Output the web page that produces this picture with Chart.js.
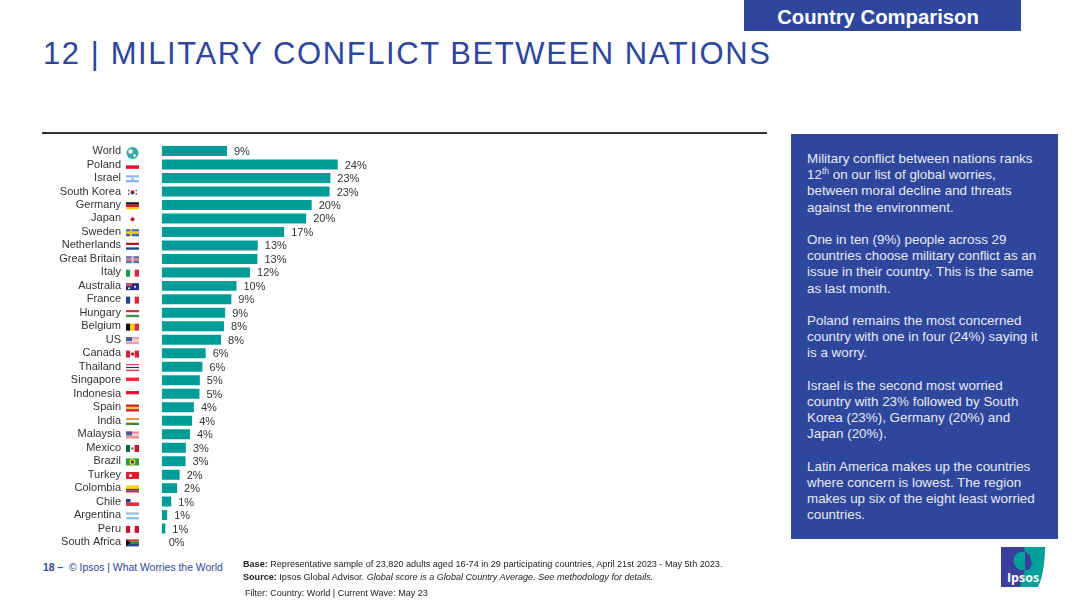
<!DOCTYPE html>
<html>
<head>
<meta charset="utf-8">
<title>Military conflict between nations</title>
<script src="https://cdn.jsdelivr.net/npm/chart.js@4/dist/chart.umd.min.js"></script>
<style>
  html, body { margin: 0; padding: 0; background: #fff; }
  body { width: 1080px; height: 607px; position: relative; overflow: hidden; font-family: "Liberation Sans", Arial, sans-serif; }
  .abs { position: absolute; white-space: nowrap; }
  #tab { left: 744px; top: 0; width: 268px; padding-right: 9px; height: 31px; line-height: 34px; background: #2e469c; color: #fff; font-weight: bold; font-size: 20.3px; text-align: center; }
  #title { left: 43px; top: 36px; font-size: 31px; line-height: 36px; color: #2e469c; letter-spacing: 1.58px; }
  #rule { left: 42px; top: 132px; width: 725px; height: 2px; background: #333; }
  #panel { left: 791px; top: 134px; width: 267px; height: 405px; background: #2e469c; }
  #panelText { left: 807px; top: 151px; color: #e8ebf5; font-size: 13.4px; line-height: 16.2px; }
  #panelText sup { font-size: 8.5px; line-height: 0; }
  #chartBox { position: absolute; left: 0; top: 130px; width: 400px; height: 430px; }
  #chart { display: block; }
  #page { left: 43px; top: 561px; font-size: 10.4px; line-height: 13px; color: #2e469c; }
  #notes { left: 243px; top: 558px; font-size: 9.08px; line-height: 13.4px; color: #222; }
  #filter { left: 245px; top: 587px; font-size: 9.05px; line-height: 13px; color: #222; }
  #logo { left: 1001px; top: 547px; }
</style>
</head>
<body>
<div class="abs" id="tab">Country Comparison</div>
<div class="abs" id="title">12 | MILITARY CONFLICT BETWEEN NATIONS</div>
<div class="abs" id="rule"></div>
<div class="abs" id="panel"></div>
<div class="abs" id="panelText">
Military conflict between nations ranks<br>
12<sup>th</sup> on our list of global worries,<br>
between moral decline and threats<br>
against the environment.<br>
<br>
One in ten (9%) people across 29<br>
countries choose military conflict as an<br>
issue in their country. This is the same<br>
as last month.<br>
<br>
Poland remains the most concerned<br>
country with one in four (24%) saying it<br>
is a worry.<br>
<br>
Israel is the second most worried<br>
country with 23% followed by South<br>
Korea (23%), Germany (20%) and<br>
Japan (20%).<br>
<br>
Latin America makes up the countries<br>
where concern is lowest. The region<br>
makes up six of the eight least worried<br>
countries.
</div>
<div id="chartBox"><canvas id="chart" width="400" height="430"></canvas></div>
<div class="abs" id="page"><b>18 –</b>&nbsp; © Ipsos | What Worries the World</div>
<div class="abs" id="notes"><b>Base:</b> Representative sample of 23,820 adults aged 16-74 in 29 participating countries, April 21st 2023 - May 5th 2023.<br>
<b>Source:</b> Ipsos Global Advisor. <i>Global score is a Global Country Average. See methodology for details.</i></div>
<div class="abs" id="filter">Filter: Country: World | Current Wave: May 23</div>
<svg class="abs" id="logo" width="45" height="41" viewBox="0 0 45 41">
  <rect x="0" y="0" width="24" height="40" fill="#3a3f9e"/>
  <path d="M23 0 H44 C44 14 42 30 37 40 H19 C24 28 26 12 23 0 Z" fill="#00a19a"/>
  <path d="M21 5 C14 5 12 11 13 16 C14 20 17 22 19 23 L24 23 L24 5 Z" fill="#00a19a"/>
  <path d="M24 5 C29 6 30 11 30 14 L32 17 L30 18 C30 22 28 23 24 23 Z" fill="#3a3f9e"/>
  <text x="22" y="35" text-anchor="middle" font-family="Open Sans, sans-serif" font-weight="bold" font-size="12.5" fill="#fff">Ipsos</text>
</svg>

<script>
const countries = ["World", "Poland", "Israel", "South Korea", "Germany", "Japan", "Sweden", "Netherlands", "Great Britain", "Italy", "Australia", "France", "Hungary", "Belgium", "US", "Canada", "Thailand", "Singapore", "Indonesia", "Spain", "India", "Malaysia", "Mexico", "Brazil", "Turkey", "Colombia", "Chile", "Argentina", "Peru", "South Africa"];
const barValues = [8.9, 24, 23, 22.9, 20.45, 19.7, 16.7, 13.1, 13.05, 12.05, 10.2, 9.5, 8.65, 8.5, 8.1, 6, 5.55, 5.2, 5.15, 4.4, 4.15, 3.85, 3.3, 3.25, 2.45, 2.1, 1.3, 0.75, 0.5, 0];
const valueLabels = ["9%", "24%", "23%", "23%", "20%", "20%", "17%", "13%", "13%", "12%", "10%", "9%", "9%", "8%", "8%", "6%", "6%", "5%", "5%", "4%", "4%", "4%", "3%", "3%", "2%", "2%", "1%", "1%", "1%", "0%"];

// tiny flags next to the country names, h = horizontal stripes, v = vertical
const flags = {
  "Poland": ["h", "#fff", "#dc143c"],
  "Israel": ["h", "#8fb4e8", "#fff", "#8fb4e8"],
  "South Korea": ["h", "#fff"],
  "Germany": ["h", "#111", "#c8102e", "#f5c518"],
  "Japan": ["h", "#fff"],
  "Sweden": ["h", "#2a6ebb", "#f5c518", "#2a6ebb"],
  "Netherlands": ["h", "#ae1c28", "#fff", "#21468b"],
  "Great Britain": ["h", "#5a6ea8", "#d87a88", "#5a6ea8"],
  "Italy": ["v", "#1e9a50", "#fff", "#d8283c"],
  "Australia": ["h", "#1f2f80"],
  "France": ["v", "#24408e", "#fff", "#e0283c"],
  "Hungary": ["h", "#cd2a3e", "#fff", "#3f8f4f"],
  "Belgium": ["v", "#111", "#f5d000", "#e0283c"],
  "US": ["h", "#e8a0a8", "#f4d0d4", "#e8a0a8"],
  "Canada": ["v", "#d8203c", "#fff", "#d8203c"],
  "Thailand": ["h", "#c83a4c", "#fff", "#2b2f70", "#fff", "#c83a4c"],
  "Singapore": ["h", "#e8303c", "#fff"],
  "Indonesia": ["h", "#e8102c", "#fff"],
  "Spain": ["h", "#c8202c", "#f5c030", "#c8202c"],
  "India": ["h", "#f09040", "#fff", "#2a8a40"],
  "Malaysia": ["h", "#e88a94", "#f8d0d4", "#e88a94"],
  "Mexico": ["v", "#0a6a44", "#fff", "#c8102e"],
  "Brazil": ["h", "#2a9a3c"],
  "Turkey": ["h", "#e01a2c"],
  "Colombia": ["h", "#f5d000", "#f5d000", "#2a3f8f", "#d8203c"],
  "Chile": ["h", "#fff", "#e0283c"],
  "Argentina": ["h", "#8fbce8", "#fff", "#8fbce8"],
  "Peru": ["v", "#c8102e", "#fff", "#c8102e"],
  "South Africa": ["h", "#c8402c", "#2a8a50", "#2a3f8f"]
};

const FLAG_X = 126, FLAG_W = 13, FLAG_H = 7;

function drawFlag(ctx, name, y) {
  const top = y - FLAG_H / 2 + 0.8;
  if (name === "World") {
    ctx.fillStyle = "#35a9a5";
    ctx.beginPath();
    ctx.arc(FLAG_X + 6.5, y + 2, 6, 0, Math.PI * 2);
    ctx.fill();
    ctx.fillStyle = "#fff";
    ctx.beginPath();
    ctx.arc(FLAG_X + 4.5, y + 0.5, 2.2, 0, Math.PI * 2);
    ctx.arc(FLAG_X + 8.5, y + 4.5, 1.4, 0, Math.PI * 2);
    ctx.fill();
    return;
  }
  const spec = flags[name];
  const stripes = spec.slice(1);
  stripes.forEach((color, i) => {
    ctx.fillStyle = color;
    if (spec[0] === "h") {
      ctx.fillRect(FLAG_X, top + i * FLAG_H / stripes.length, FLAG_W, FLAG_H / stripes.length);
    } else {
      ctx.fillRect(FLAG_X + i * FLAG_W / stripes.length, top, FLAG_W / stripes.length, FLAG_H);
    }
  });
  const dot = (x, yy, r, color) => {
    ctx.fillStyle = color;
    ctx.beginPath();
    ctx.arc(x, yy, r, 0, Math.PI * 2);
    ctx.fill();
  };
  const mid = top + FLAG_H / 2;
  if (name === "Japan") dot(FLAG_X + 6.5, mid, 2, "#c8102e");
  if (name === "South Korea") {
    dot(FLAG_X + 6.5, mid, 2, "#c8102e");
    dot(FLAG_X + 6.5, mid + 1, 1.2, "#24408e");
    ctx.fillStyle = "#555";
    ctx.fillRect(FLAG_X + 2, top + 1, 1.5, 1.5);
    ctx.fillRect(FLAG_X + 9.5, top + 1, 1.5, 1.5);
    ctx.fillRect(FLAG_X + 2, top + 4.5, 1.5, 1.5);
    ctx.fillRect(FLAG_X + 9.5, top + 4.5, 1.5, 1.5);
  }
  if (name === "Sweden") { ctx.fillStyle = "#f5c518"; ctx.fillRect(FLAG_X + 4, top, 2, FLAG_H); }
  if (name === "Great Britain") { ctx.fillStyle = "#e8c8cc"; ctx.fillRect(FLAG_X + 5.5, top, 2, FLAG_H); }
  if (name === "Australia") { dot(FLAG_X + 9, mid, 1, "#fff"); dot(FLAG_X + 3, mid + 1.5, 1, "#fff"); ctx.fillStyle = "#c8506a"; ctx.fillRect(FLAG_X, top, 6, 3); }
  if (name === "US" || name === "Malaysia") { ctx.fillStyle = "#4a5a9a"; ctx.fillRect(FLAG_X, top, 6, 4); }
  if (name === "Canada") dot(FLAG_X + 6.5, mid, 1.8, "#d8203c");
  if (name === "Mexico") dot(FLAG_X + 6.5, mid, 1.2, "#8a6a30");
  if (name === "Brazil") { dot(FLAG_X + 6.5, mid, 3, "#f5d000"); dot(FLAG_X + 6.5, mid, 1.6, "#24408e"); }
  if (name === "Turkey") dot(FLAG_X + 4.5, mid, 1.5, "#fff");
  if (name === "Chile") { ctx.fillStyle = "#24408e"; ctx.fillRect(FLAG_X, top, 4.5, 3.5); }
  if (name === "South Africa") { ctx.fillStyle = "#111"; ctx.beginPath(); ctx.moveTo(FLAG_X, top); ctx.lineTo(FLAG_X + 5, mid); ctx.lineTo(FLAG_X, top + FLAG_H); ctx.fill(); }
  if (name === "Israel") { ctx.fillStyle = "#7fa4e0"; ctx.fillRect(FLAG_X + 5.5, mid - 1, 2, 2); }
}

const annotate = {
  id: "annotate",
  afterDatasetsDraw(chart) {
    const { ctx, scales: { x, y } } = chart;
    ctx.save();
    ctx.font = '11px "Liberation Sans", Arial, sans-serif';
    ctx.fillStyle = "#333";
    ctx.textAlign = "left";
    ctx.textBaseline = "middle";
    barValues.forEach((v, i) => {
      ctx.fillText(valueLabels[i], x.getPixelForValue(v) + 7, y.getPixelForValue(i) + 1);
    });
    countries.forEach((name, i) => drawFlag(ctx, name, y.getPixelForValue(i)));
    ctx.restore();
  }
};

new Chart(document.getElementById("chart"), {
  type: "bar",
  data: {
    labels: countries,
    datasets: [{
      data: barValues,
      backgroundColor: "#009d98",
      barPercentage: 0.74,
      categoryPercentage: 1
    }]
  },
  options: {
    indexAxis: "y",
    responsive: false,
    animation: false,
    devicePixelRatio: 1,
    layout: { padding: { top: 14.3, bottom: 11.2, left: 0, right: 18.3 } },
    plugins: { legend: { display: false }, tooltip: { enabled: false } },
    scales: {
      x: { display: false, min: 0, max: 30 },
      y: {
        afterFit: s => { s.width = 161.7; s.paddingTop = 0; s.paddingBottom = 0; },
        grid: { display: false, drawTicks: false },
        border: { display: false },
        ticks: {
          autoSkip: false,
          padding: 40.7,
          color: "#333",
          font: { family: '"Liberation Sans", Arial, sans-serif', size: 11 }
        }
      }
    }
  },
  plugins: [annotate]
});
</script>
</body>
</html>
